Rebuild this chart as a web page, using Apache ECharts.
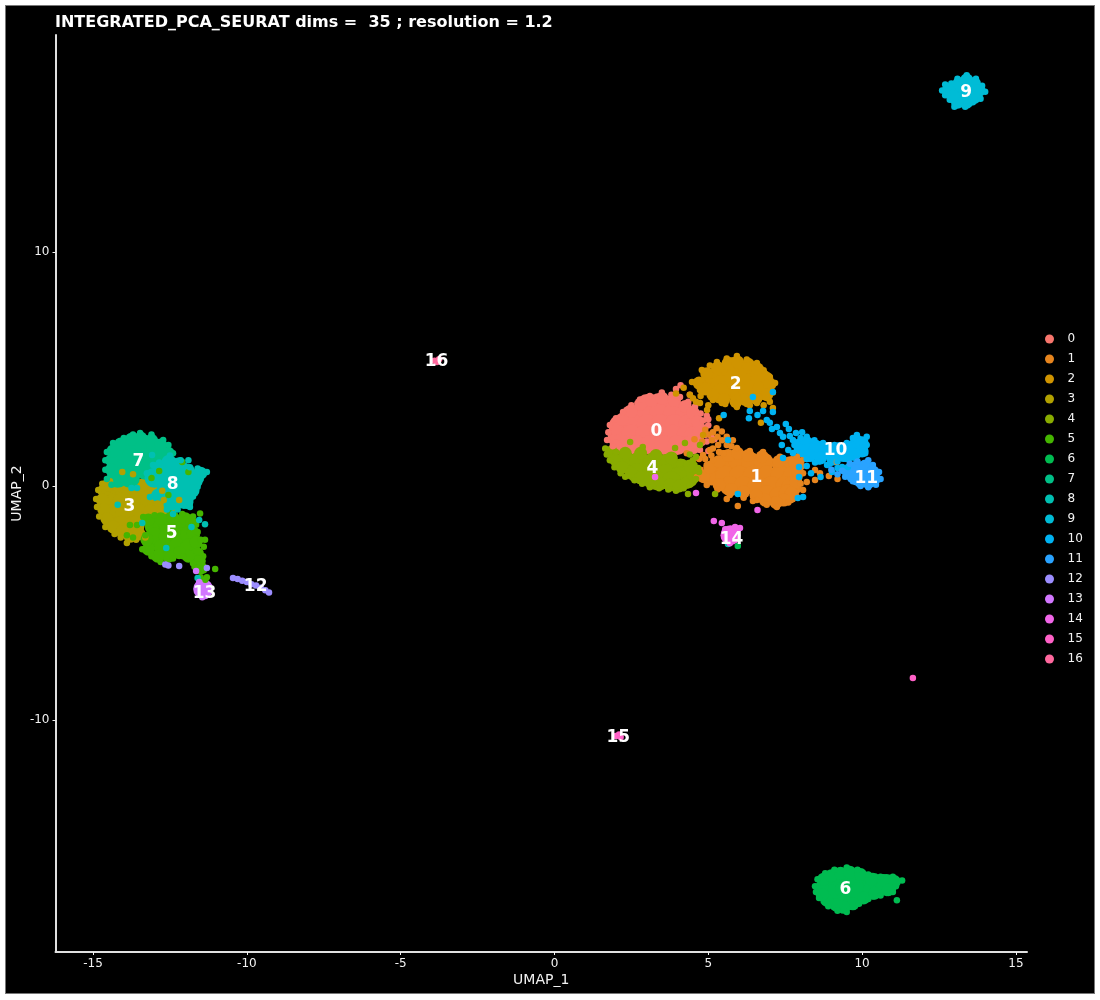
<!DOCTYPE html>
<html><head><meta charset="utf-8">
<script src="https://cdn.jsdelivr.net/npm/echarts@6/dist/echarts.min.js"></script>
<style>
html,body{margin:0;padding:0;background:#fff;width:1100px;height:1000px;overflow:hidden}
#frame{position:absolute;left:5px;top:5px;width:1088px;height:987px;background:#000;border:1px solid #777}
#c{position:absolute;left:0;top:0;width:1100px;height:1000px}
</style></head><body><div id="frame"></div><div id="c"></div>
<script>
const clusterNames=['0','1','2','3','4','5','6','7','8','9','10','11','12','13','14','15','16'];
const clusterColors=['#F8766D','#E7851E','#D09400','#B2A100','#89AC00','#45B500','#00BC51','#00C087','#00C0B2','#00BCD6','#00B3F2','#29A3FF','#9C8DFF','#D277FF','#F166E8','#FF61C7','#FF689E'];
const xTicks=[-15,-10,-5,0,5,10,15];
const yTicks=[-10,0,10];
const labelPos=[[3.3,2.4],[6.55,0.43],[5.87,4.4],[-13.83,-0.8],[3.17,0.81],[-12.46,-1.97],[9.44,-17.2],[-13.54,1.11],[-12.43,0.13],[13.37,16.88],[9.12,1.58],[10.12,0.38],[-9.73,-4.23],[-11.39,-4.53],[5.74,-2.22],[2.06,-10.68],[-3.85,5.38]];

const core0=[[3.0,3.5],[3.4,3.55],[3.8,3.45],[2.5,3.05],[2.95,3.1],[3.4,3.1],[3.85,3.1],[4.25,3.05],[2.1,2.6],[2.55,2.65],[3.0,2.65],[3.45,2.65],[3.9,2.65],[4.35,2.65],[4.55,2.55],[2.05,2.2],[2.5,2.2],[2.95,2.2],[3.4,2.2],[3.85,2.2],[4.3,2.2],[4.55,2.15],[2.2,1.75],[2.65,1.75],[3.1,1.75],[3.55,1.75],[4.0,1.75],[4.45,1.75]];
const core1=[[5.5,0.9],[5.95,1.15],[6.4,1.0],[6.8,1.0],[7.4,0.85],[7.7,0.85],[5.1,0.45],[5.55,0.45],[6.0,0.45],[6.45,0.45],[6.9,0.45],[7.35,0.45],[7.75,0.45],[5.7,0.0],[6.15,0.0],[6.6,0.0],[7.05,0.0],[7.5,0.0],[7.7,-0.05],[6.9,-0.4],[7.3,-0.45],[7.6,-0.35]];
const core2=[[5.05,4.35],[5.4,4.85],[5.4,4.3],[5.85,5.1],[5.85,4.6],[5.85,4.1],[5.4,3.95],[6.3,4.85],[6.3,4.4],[6.3,3.95],[6.7,4.6],[6.75,4.1]];
const core3=[[-14.4,-0.2],[-13.95,-0.2],[-13.5,-0.2],[-13.05,-0.3],[-14.5,-0.7],[-14.05,-0.7],[-13.6,-0.7],[-13.15,-0.7],[-14.4,-1.2],[-13.95,-1.2],[-13.5,-1.2],[-13.1,-1.2],[-14.1,-1.7],[-13.65,-1.7]];
const core4=[[2.3,1.05],[2.75,1.05],[3.2,1.0],[3.65,0.95],[4.1,0.75],[4.4,0.6],[2.7,0.55],[3.15,0.5],[3.6,0.5],[4.05,0.4],[4.35,0.35],[3.3,0.25],[3.8,0.2]];
const core5=[[-13.0,-1.7],[-12.55,-1.6],[-12.1,-1.65],[-13.0,-2.2],[-12.55,-2.2],[-12.1,-2.2],[-11.85,-2.1],[-12.7,-2.65],[-12.25,-2.65],[-11.85,-2.65]];
const core6=[[9.0,-17.0],[9.0,-17.45],[9.45,-16.75],[9.45,-17.25],[9.45,-17.75],[9.9,-16.85],[9.9,-17.35],[10.35,-16.95],[10.35,-17.25],[10.8,-17.0],[10.8,-17.1]];
const core7=[[-13.85,1.7],[-13.4,1.8],[-12.95,1.6],[-14.2,1.2],[-13.75,1.2],[-13.3,1.2],[-12.85,1.2],[-14.2,0.7],[-13.75,0.7],[-13.3,0.7],[-14.2,0.35],[-13.8,0.35]];
const core8=[[-12.5,0.85],[-12.1,0.6],[-13.0,0.35],[-12.55,0.35],[-12.1,0.3],[-11.75,0.3],[-12.6,-0.1],[-12.15,-0.15],[-11.95,-0.1],[-12.3,-0.55],[-12.05,-0.55]];
const core9=[[13.05,16.85],[13.4,17.05],[13.6,16.8],[13.25,16.6]];
const core10=[[8.2,1.6],[8.65,1.5],[9.1,1.42],[9.55,1.5],[9.85,1.65]];
const core11=[[10.0,0.6],[10.25,0.42],[9.85,0.45]];
const core12=[],core13=[[-11.42,-4.4]],core14=[[5.72,-2.1]],core15=[],core16=[];

const rim0=[[1.95,2.0],[1.98,2.45],[2.2,2.85],[2.5,3.2],[2.8,3.5],[3.15,3.65],[3.5,3.75],[3.9,3.65],[4.25,3.4],[4.5,3.15],[4.65,2.75],[4.7,2.3],[4.6,1.85],[2.0,1.7]];
const rim1=[[4.85,0.4],[5.05,0.8],[5.35,1.05],[5.65,1.3],[5.95,1.4],[6.3,1.3],[6.75,1.25],[7.3,1.05],[7.8,1.0],[7.9,0.6],[7.85,0.15],[7.7,-0.3],[7.45,-0.6],[7.2,-0.7],[6.85,-0.6],[6.55,-0.4],[6.15,-0.25],[5.75,-0.15],[5.35,0.05]];
const rim2=[[4.7,4.4],[4.95,4.8],[5.3,5.05],[5.65,5.25],[5.95,5.3],[6.3,5.2],[6.6,5.0],[6.9,4.6],[7.0,4.35],[6.9,3.9],[6.55,3.75],[6.2,3.7],[5.9,3.6],[5.5,3.7],[5.15,3.9],[4.9,4.15]];
const rim3=[[-14.65,-0.2],[-14.7,-0.6],[-14.65,-1.0],[-14.55,-1.4],[-14.35,-1.75],[-14.05,-1.95],[-13.8,-2.15],[-13.5,-2.05],[-14.5,0.05],[-14.2,0.05],[-13.8,0.1],[-13.4,0.05],[-12.85,-0.9],[-12.9,-0.5],[-12.7,-1.0],[-12.4,-0.85]];
const rim4=[[1.85,1.45],[2.0,1.1],[2.2,0.8],[2.5,0.55],[2.8,0.35],[3.1,0.2],[3.45,0.1],[3.75,0.05],[4.05,0.0],[4.3,0.15],[4.5,0.5],[4.4,0.85],[2.3,1.4],[2.8,1.4],[3.3,1.3],[3.8,1.2]];
const rim5=[[-13.2,-1.45],[-12.8,-1.4],[-12.4,-1.35],[-12.0,-1.4],[-11.8,-1.6],[-11.75,-2.0],[-11.65,-2.4],[-11.6,-2.9],[-11.55,-3.2],[-11.9,-3.0],[-12.2,-2.85],[-12.55,-3.0],[-12.9,-3.0],[-13.2,-2.7],[-13.25,-2.3],[-11.5,-3.5]];
const rim6=[[8.7,-17.1],[8.75,-16.8],[9.0,-16.65],[9.3,-16.55],[9.6,-16.5],[9.95,-16.6],[10.3,-16.8],[10.7,-16.85],[11.05,-16.9],[10.85,-17.25],[10.4,-17.4],[10.05,-17.6],[9.7,-17.85],[9.4,-18.0],[9.15,-17.9],[8.85,-17.7],[8.7,-17.45]];
const rim7=[[-14.4,1.1],[-14.35,1.5],[-14.1,1.8],[-13.75,2.0],[-13.45,2.05],[-13.1,1.95],[-12.8,1.75],[-12.55,1.4],[-14.4,0.7],[-14.35,0.35]];
const rim8=[[-13.1,0.45],[-12.85,0.8],[-12.55,1.05],[-12.2,0.95],[-11.9,0.65],[-11.5,0.55],[-11.65,0.2],[-11.75,-0.2],[-11.95,-0.7],[-12.5,-0.8],[-12.9,-0.4]];
const rim9=[[12.8,16.9],[12.95,17.0],[13.15,17.2],[13.4,17.35],[13.65,17.2],[13.8,16.9],[13.65,16.6],[13.4,16.4],[13.1,16.4],[12.95,16.65]];
const rim10=[[7.95,1.75],[8.2,1.85],[8.5,1.7],[8.85,1.6],[9.25,1.6],[9.55,1.65],[9.85,1.9],[10.0,1.85],[10.0,1.5],[9.75,1.35],[9.4,1.3],[9.05,1.15],[8.65,1.2],[8.3,1.3],[8.05,1.5]];
const rim11=[[9.55,0.6],[9.8,0.8],[10.1,0.85],[10.35,0.6],[10.4,0.3],[10.2,0.15],[9.95,0.2],[9.7,0.4]];
const rim12=[],rim13=[],rim14=[],rim15=[],rim16=[];

const pts0=[[1.71,1.97],[1.75,2.3],[1.8,2.61],[2.0,2.9],[2.23,3.16],[2.5,3.45],[2.78,3.7],[3.1,3.85],[3.49,4.0],[3.8,3.9],[4.08,3.8],[4.35,3.6],[4.57,3.4],[4.75,3.1],[4.83,2.8],[4.9,2.5],[4.89,2.18],[4.8,1.85],[4.73,1.54],[1.9,1.7],[3.95,4.15],[4.1,4.3],[4.4,3.9],[5.0,2.6],[5.1,2.1],[4.95,1.9],[5.2,2.0],[5.0,1.5],[5.0,2.85],[4.95,3.0]];
const pts1=[[4.63,0.38],[4.75,0.7],[5.15,1.1],[5.5,1.4],[5.93,1.62],[6.35,1.5],[6.78,1.45],[7.33,1.25],[7.88,1.25],[8.05,0.85],[8.08,0.55],[8.0,0.1],[7.88,-0.47],[7.6,-0.7],[7.23,-0.9],[6.9,-0.8],[6.58,-0.6],[6.15,-0.5],[5.7,-0.38],[5.3,-0.15],[4.95,0.04],[5.27,2.47],[5.44,2.33],[5.8,1.96],[5.6,2.1],[5.12,1.96],[5.32,1.75],[4.9,2.4],[5.05,1.54],[5.48,1.4],[4.83,1.32],[4.95,0.9],[8.47,0.68],[8.63,0.55],[8.47,0.26],[8.2,0.17],[8.08,-0.17],[8.92,0.43],[9.2,0.3],[9.18,1.03],[5.6,-0.55],[5.96,-0.85],[6.45,-0.64],[8.04,1.1],[4.3,1.4],[4.55,2.0],[5.0,2.2],[5.15,2.3],[5.3,2.1],[5.45,1.95],[5.15,1.6],[5.35,1.45],[4.9,1.15],[5.1,1.3],[4.7,1.15],[5.6,1.75],[5.75,1.7],[4.8,1.9]];
const pts2=[[4.47,4.44],[4.79,4.96],[5.05,5.15],[5.28,5.3],[5.6,5.45],[5.93,5.56],[6.25,5.4],[6.58,5.26],[6.8,4.95],[7.0,4.66],[7.17,4.4],[7.1,4.0],[7.0,3.6],[6.58,3.55],[6.25,3.5],[5.93,3.38],[5.55,3.5],[5.15,3.68],[4.73,4.1],[4.96,3.25],[5.35,2.9],[4.4,3.9],[4.73,3.55],[7.1,3.33],[5.93,3.55],[5.44,3.55],[6.71,2.7],[4.83,2.18],[4.2,4.2],[3.95,3.95],[4.5,3.75],[4.6,3.6],[4.75,3.85],[5.0,3.45],[6.35,3.45],[6.8,3.45]];
const pts3=[[-14.83,-0.17],[-14.9,-0.55],[-14.87,-0.9],[-14.8,-1.3],[-14.6,-1.75],[-14.3,-2.05],[-14.1,-2.2],[-13.9,-2.44],[-13.6,-2.3],[-13.3,-2.2],[-14.7,0.1],[-14.45,0.2],[-14.05,0.6],[-13.7,0.5],[-12.7,-0.6],[-12.2,-0.6],[-12.75,-0.2],[-13.0,-0.95],[-12.9,-0.75]];
const pts4=[[1.65,1.6],[1.7,1.35],[1.8,1.1],[1.95,0.8],[2.15,0.55],[2.3,0.4],[2.6,0.25],[2.85,0.1],[3.1,-0.05],[3.4,-0.1],[3.7,-0.15],[3.95,-0.2],[4.2,-0.1],[4.4,0.05],[4.6,0.3],[4.7,0.6],[4.55,0.9],[4.34,-0.34],[2.0,1.45],[2.46,1.88],[4.24,1.84],[3.92,1.62],[2.87,1.67],[4.73,1.75],[4.67,0.77],[5.22,-0.34],[4.05,0.95],[4.5,1.1],[4.4,1.35],[4.6,1.25],[4.3,0.95]];
const pts5=[[-13.37,-1.32],[-13.0,-1.25],[-12.5,-1.17],[-12.1,-1.2],[-11.75,-1.3],[-11.65,-1.65],[-11.6,-1.97],[-11.5,-2.3],[-11.4,-2.6],[-11.42,-3.0],[-11.3,-3.9],[-11.7,-3.45],[-12.07,-3.0],[-12.4,-3.1],[-12.8,-3.25],[-13.1,-3.0],[-13.4,-2.7],[-13.3,-2.1],[-11.75,-3.3],[-11.6,-3.5],[-11.45,-3.2],[-11.4,-3.6],[-11.5,-3.9],[-11.35,-4.0],[-11.52,-1.17],[-11.36,-2.3],[-11.03,-3.55],[-13.8,-1.67],[-13.57,-1.67],[-13.9,-2.1],[-13.7,-2.2],[-12.55,-0.38],[-13.1,0.34],[-12.85,0.64],[-12.1,1.03],[-11.9,0.6],[-11.6,-3.1]];
const pts6=[[8.47,-17.1],[8.55,-16.8],[8.8,-16.55],[9.1,-16.4],[9.5,-16.3],[9.85,-16.4],[10.2,-16.6],[10.6,-16.7],[11.0,-16.7],[11.3,-16.85],[11.1,-17.1],[11.0,-17.35],[10.6,-17.5],[10.2,-17.65],[9.9,-17.85],[9.5,-18.2],[9.2,-18.15],[8.9,-17.95],[8.6,-17.6],[8.5,-17.35],[11.13,-17.7],[5.96,-2.56]];
const pts7=[[-14.6,1.1],[-14.55,1.45],[-14.35,1.84],[-14.0,2.05],[-13.7,2.2],[-13.47,2.27],[-13.1,2.2],[-12.72,1.97],[-12.4,1.4],[-12.55,1.75],[-14.6,0.7],[-14.55,0.3],[-14.4,0.05]];
const pts8=[[-13.25,0.55],[-12.85,1.0],[-12.5,1.3],[-12.15,1.1],[-11.85,0.8],[-11.6,0.75],[-11.3,0.6],[-11.5,0.3],[-11.6,-0.03],[-11.75,-0.45],[-11.85,-0.9],[-12.25,-1.0],[-12.6,-1.0],[-13.15,-0.47],[-13.08,1.32],[-13.05,0.9],[-14.2,-0.8],[-13.57,-0.08],[-13.75,-0.08],[-13.4,-1.58],[-11.9,1.1],[-11.36,-1.63],[-11.55,-1.45],[-11.8,-1.75],[-12.4,-1.2],[-12.62,-2.65],[-11.6,-3.93],[5.64,-2.48]];
const pts9=[[12.6,16.9],[12.7,17.15],[12.9,17.2],[13.1,17.4],[13.4,17.55],[13.7,17.4],[13.9,17.1],[14.0,16.85],[13.85,16.55],[13.6,16.4],[13.35,16.2],[13.0,16.2],[12.85,16.5],[12.7,16.7]];
const pts10=[[7.75,1.97],[8.0,2.05],[8.2,2.1],[8.45,1.95],[8.73,1.84],[9.1,1.75],[9.5,1.84],[9.7,2.05],[9.83,2.18],[10.15,2.1],[10.15,1.75],[10.1,1.4],[9.8,1.2],[9.5,1.15],[9.2,1.05],[8.95,0.95],[8.6,1.05],[8.2,1.15],[7.88,1.54],[7.8,1.75],[5.5,3.03],[6.35,3.2],[6.32,2.9],[6.6,3.03],[6.78,3.2],[7.1,3.16],[6.9,2.82],[7.0,2.7],[7.07,2.44],[7.23,2.52],[7.33,2.26],[7.43,2.1],[7.52,2.65],[7.62,2.44],[7.65,2.14],[7.85,2.26],[8.05,2.3],[7.39,1.75],[7.6,1.54],[7.43,1.2],[7.75,1.41],[7.95,0.81],[8.2,0.85],[7.95,0.38],[8.34,0.55],[8.65,0.38],[8.47,1.0],[7.91,-0.51],[8.08,-0.47],[5.64,1.97],[5.96,-0.34],[7.1,4.02],[6.45,3.8],[9.02,0.6],[9.2,0.77],[9.54,0.81],[9.35,0.81],[9.6,1.2],[8.86,0.9]];
const pts11=[[9.35,0.65],[9.6,0.95],[9.85,1.05],[10.2,1.1],[10.35,0.9],[10.55,0.6],[10.6,0.3],[10.45,0.05],[10.2,-0.05],[9.95,0.0],[9.7,0.2],[9.45,0.4],[9.2,0.5],[9.0,0.7]];
const pts12=[[-12.65,-3.35],[-12.55,-3.4],[-12.2,-3.42],[-11.3,-3.5],[-10.45,-3.93],[-10.3,-3.97],[-10.15,-4.05],[-10.0,-4.1],[-9.85,-4.2],[-9.7,-4.25],[-9.55,-4.35],[-9.4,-4.45],[-9.28,-4.55]];
const pts13=[[-11.65,-3.63],[-11.55,-4.1],[-11.5,-4.3],[-11.4,-4.35],[-11.3,-4.5],[-11.5,-4.55],[-11.35,-4.7],[-11.25,-4.3],[-11.45,-4.75]];
const pts14=[[5.18,-1.5],[5.44,-1.58],[5.87,-1.75],[6.03,-1.79],[4.6,-0.3],[6.6,-1.03],[3.27,0.38],[5.55,-1.85],[5.7,-1.85],[5.55,-2.05],[5.7,-2.1],[5.85,-2.0],[5.6,-2.25],[5.8,-2.3],[5.7,-2.45]];
const pts15=[[2.0,-10.68],[2.1,-10.62],[2.15,-10.72],[11.65,-8.2]];
const pts16=[[-3.9,5.35],[-3.75,5.42],[-3.82,5.3]];

const cores=[core0,core1,core2,core3,core4,core5,core6,core7,core8,core9,core10,core11,core12,core13,core14,core15,core16];
const rims=[rim0,rim1,rim2,rim3,rim4,rim5,rim6,rim7,rim8,rim9,rim10,rim11,rim12,rim13,rim14,rim15,rim16];
const points=[pts0,pts1,pts2,pts3,pts4,pts5,pts6,pts7,pts8,pts9,pts10,pts11,pts12,pts13,pts14,pts15,pts16];

const white='#f2f2f2';
const series=[];
clusterNames.forEach((n,i)=>{
  series.push({type:'scatter',name:n,data:cores[i],symbolSize:20,z:2,silent:true,itemStyle:{color:clusterColors[i],opacity:1}});
  series.push({type:'scatter',name:n,data:rims[i],symbolSize:13,z:2,silent:true,itemStyle:{color:clusterColors[i],opacity:1}});
});
clusterNames.forEach((n,i)=>{series.push({type:'scatter',name:n,data:points[i],symbolSize:6.5,z:3,silent:true,itemStyle:{color:clusterColors[i],opacity:1}});});
series.push({type:'scatter',name:'labels',symbolSize:0,z:5,silent:true,itemStyle:{opacity:1},
  data:labelPos.map((p,i)=>({value:p,label:{formatter:clusterNames[i]}})),
  label:{show:true,position:'inside',offset:[0.5,1.5],color:'#fff',opacity:1,textBorderWidth:0,fontFamily:'DejaVu Sans',fontWeight:'bold',fontSize:17}});

const axisCommon={type:'value',splitLine:{show:false},nameMoveOverlap:false,
  axisLine:{show:true,onZero:false,lineStyle:{color:'#e0e0e0',width:2}},
  nameLocation:'middle',nameTextStyle:{color:white,fontFamily:'DejaVu Sans',fontSize:14}};
const chart=echarts.init(document.getElementById('c'),null,{renderer:'canvas'});
chart.setOption({
  animation:false,backgroundColor:'transparent',
  title:{text:'INTEGRATED_PCA_SEURAT dims =  35 ; resolution = 1.2',left:55,top:15,padding:0,
    textStyle:{color:'#fff',fontFamily:'DejaVu Sans',fontWeight:'bold',fontSize:16}},
  grid:{left:55.5,right:73,top:35,bottom:48,outerBoundsMode:'none'},
  legend:{data:clusterNames,orient:'vertical',left:1045,top:333,padding:0,icon:'circle',itemWidth:26,itemHeight:9,itemGap:8,
    selectedMode:false,textStyle:{color:white,fontFamily:'DejaVu Sans',fontSize:12}},
  xAxis:Object.assign({},axisCommon,{min:-16.22,max:15.36,name:'UMAP_1',nameGap:21,
    axisTick:{show:true,length:3,lineStyle:{color:white},customValues:xTicks},
    axisLabel:{color:white,fontFamily:'DejaVu Sans',fontSize:12,margin:6,customValues:xTicks}}),
  yAxis:Object.assign({},axisCommon,{min:-19.91,max:19.27,name:'UMAP_2',nameGap:31,
    axisTick:{show:true,length:3,lineStyle:{color:white},customValues:yTicks},
    axisLabel:{color:white,fontFamily:'DejaVu Sans',fontSize:12,margin:6,customValues:yTicks}}),
  series
});
</script></body></html>
